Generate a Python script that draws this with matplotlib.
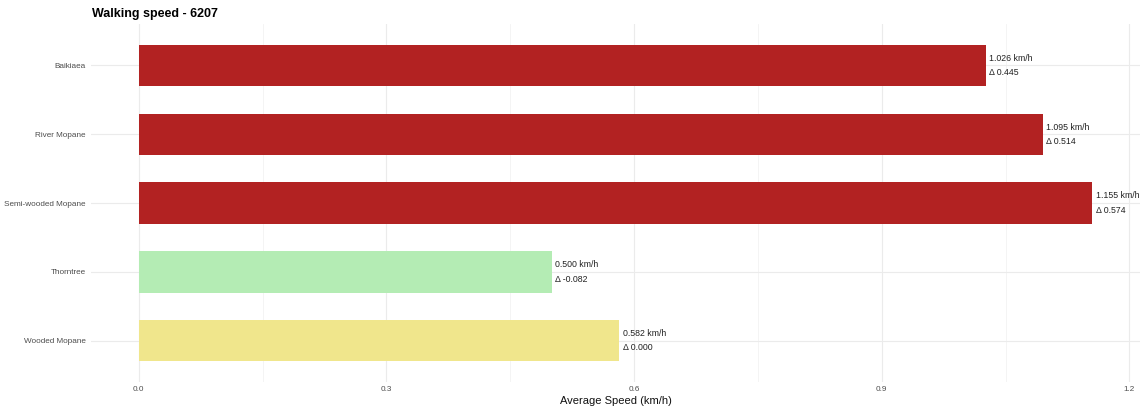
import matplotlib.pyplot as plt

plt.rcParams["font.family"] = ["Liberation Sans", "DejaVu Sans"]

habitats = ["Wooded Mopane", "Thorntree", "Semi-wooded Mopane", "River Mopane", "Baikiaea"]
speeds = [0.582, 0.500, 1.155, 1.095, 1.026]
deltas = [0.000, -0.082, 0.574, 0.514, 0.445]
colors = ["#F0E68C", "#B4ECB4", "#B22222", "#B22222", "#B22222"]
xticks = [0.0, 0.3, 0.6, 0.9, 1.2]

fig = plt.figure(figsize=(11.45, 4.16), dpi=100)
ax = fig.add_axes([0.0795, 0.0817, 0.9161, 0.8603])

ypos = range(len(habitats))
ax.barh(ypos, speeds, height=0.6, color=colors, zorder=2)

for y, s, d in zip(ypos, speeds, deltas):
    ax.text(s + 0.004, y, f"{s:.3f} km/h\n\u0394 {d:.3f}", va="center", ha="left",
            fontsize=6.3, color="#222222", linespacing=1.75, zorder=3)

ax.set_xlim(-0.05775, 1.21275)
ax.set_ylim(-0.6, len(habitats) - 0.4)
ax.set_yticks(list(ypos))
ax.set_yticklabels(habitats)
ax.set_xticks(xticks)
ax.set_xticklabels([f"{t:.1f}" for t in xticks])
ax.set_xticks([0.15, 0.45, 0.75, 1.05], minor=True)

ax.grid(True, which="major", color="#EBEBEB", linewidth=0.8, zorder=0)
ax.grid(True, which="minor", axis="x", color="#F3F3F3", linewidth=0.6, zorder=0)
ax.set_axisbelow(True)
for sp in ax.spines.values():
    sp.set_visible(False)
ax.tick_params(which="both", length=0, labelsize=5.9, colors="#4D4D4D", pad=4)
ax.tick_params(axis="x", pad=3)

ax.set_xlabel("Average Speed (km/h)", fontsize=8, color="#111111", labelpad=2)
fig.text(0.0805, 0.966, "Walking speed - 6207", fontsize=9, fontweight="bold",
         ha="left", va="center")

fig.savefig("out.png", dpi=100)
